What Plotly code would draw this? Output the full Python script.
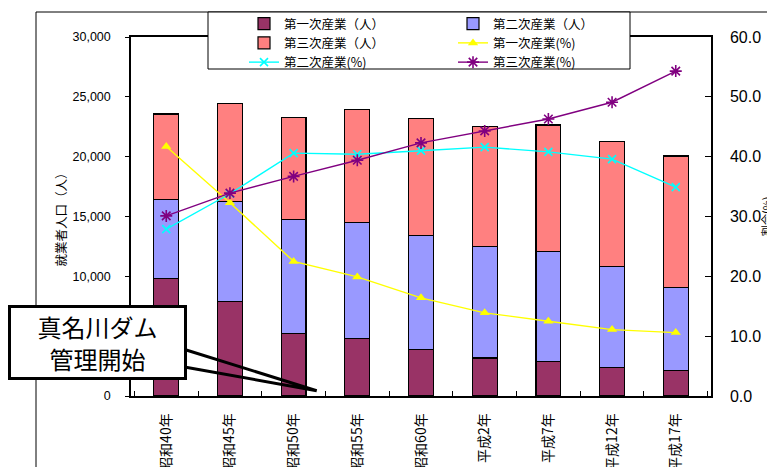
import plotly.graph_objects as go

# 就業者数（人）と産業別割合（%）
years = ["昭和40年", "昭和45年", "昭和50年", "昭和55年", "昭和60年",
         "平成2年", "平成7年", "平成12年", "平成17年"]
primary = [9800, 7920, 5220, 4800, 3890, 3170, 2860, 2360, 2140]
secondary = [6590, 8330, 9500, 9730, 9530, 9330, 9220, 8470, 6940]
tertiary = [7170, 8220, 8530, 9410, 9800, 10030, 10560, 10470, 10980]
pct_primary = [41.7, 32.3, 22.5, 19.9, 16.4, 13.9, 12.5, 11.1, 10.6]
pct_secondary = [27.9, 33.8, 40.6, 40.4, 41.0, 41.6, 40.8, 39.6, 34.9]
pct_tertiary = [30.1, 33.9, 36.7, 39.4, 42.3, 44.3, 46.3, 49.1, 54.3]

names_bar = ["第一次産業（人）", "第二次産業（人）", "第三次産業（人）"]
names_line = ["第一次産業(%)", "第二次産業(%)", "第三次産業(%)"]

W, H = 767, 467
L, R, T, B = 131, 711, 37, 396          # plot area in pixels
PW, PH = R - L, B - T


def px(x):
    return (x - L) / PW


def py(y):
    return (B - y) / PH


FONT = "Liberation Sans, Arial, Noto Sans CJK JP, sans-serif"
CJK = "Noto Sans CJK JP, sans-serif"

fig = go.Figure()

bar_colors = ["#993366", "#9999FF", "#FF8080"]
for name, vals, col in zip(names_bar, [primary, secondary, tertiary], bar_colors):
    fig.add_trace(go.Bar(
        x=years, y=vals, name=name, width=0.39,
        marker=dict(color=col, line=dict(color="#000000", width=1.2)),
    ))

line_styles = [
    ("#FFFF00", dict(symbol="triangle-up", size=9, color="#FFFF00")),
    ("#00FFFF", dict(symbol="x-thin-open", size=8, color="#00FFFF",
                     line=dict(color="#00FFFF", width=1.6))),
    ("#800080", dict(symbol="asterisk-open", size=10, color="#800080",
                     line=dict(color="#800080", width=1.6))),
]
for name, vals, (col, mk) in zip(names_line,
                                 [pct_primary, pct_secondary, pct_tertiary],
                                 line_styles):
    fig.add_trace(go.Scatter(
        x=years, y=vals, name=name, yaxis="y2", mode="lines+markers",
        line=dict(color=col, width=1.4), marker=mk,
    ))

shapes = [
    # outer chart frame
    dict(type="rect", xref="paper", yref="paper",
         x0=px(36), x1=px(800), y0=py(500), y1=py(12),
         line=dict(color="#000000", width=1), fillcolor="rgba(0,0,0,0)",
         layer="below"),
    # legend box
    dict(type="rect", xref="paper", yref="paper",
         x0=px(208), x1=px(630), y0=py(69), y1=py(12),
         line=dict(color="#000000", width=1), fillcolor="#FFFFFF",
         layer="above"),
    # callout pointer
    dict(type="path", xref="paper", yref="paper",
         path=(f"M{px(183)},{py(349)} L{px(316.7)},{py(390.7)} "
               f"L{px(183)},{py(366.7)}"),
         line=dict(color="#000000", width=3), fillcolor="rgba(0,0,0,0)",
         layer="above"),
]

annotations = [
    dict(text="真名川ダム<br>管理開始", xref="paper", yref="paper",
         x=px(97), y=py(342), xanchor="center", yanchor="middle",
         showarrow=False, font=dict(family=CJK, size=24, color="#000000"),
         bgcolor="#FFFFFF", bordercolor="#000000", borderwidth=3,
         borderpad=1, width=171, height=67),
    # right axis title
    dict(text="割合(%)", xref="paper", yref="paper",
         x=px(756), y=py(216), xanchor="left", yanchor="middle",
         textangle=-90, showarrow=False,
         font=dict(family=CJK, size=11, color="#000000")),
]

fig.update_layout(
    width=W, height=H,
    margin=dict(l=L, r=W - R, t=T, b=H - B, pad=0, autoexpand=False),
    paper_bgcolor="#FFFFFF", plot_bgcolor="#FFFFFF",
    barmode="stack", bargap=0.61,
    font=dict(family=FONT, size=12.5, color="#000000"),
    showlegend=True,
    legend=dict(
        orientation="h", xref="container", yref="container",
        x=244 / W, y=1 - 9 / H, xanchor="left", yanchor="top",
        bgcolor="rgba(0,0,0,0)", borderwidth=0,
        entrywidth=164, entrywidthmode="pixels",
        font=dict(family=CJK, size=12.5), traceorder="normal",
        tracegroupgap=0,
    ),
    xaxis=dict(
        type="category", automargin=False, showline=True,
        linecolor="#000000", linewidth=1.5,
        mirror=True, ticks="inside", tickson="boundaries", ticklen=5,
        tickcolor="#000000", tickangle=-90, ticklabelstandoff=10,
        tickfont=dict(family=CJK, size=14),
    ),
    yaxis=dict(
        range=[0, 30000], dtick=5000, tickformat=",", showgrid=False,
        automargin=False,
        zeroline=False, showline=True, linecolor="#000000", linewidth=1.5,
        ticks="outside", ticklen=4, tickcolor="#000000",
        ticklabelstandoff=12,
        tickfont=dict(family=FONT, size=12.5),
        title=dict(text="就業者人口（人）", font=dict(family=CJK, size=12.5),
                   standoff=3),
    ),
    yaxis2=dict(
        range=[0, 60], dtick=10, tickformat=".1f", overlaying="y",
        automargin=False,
        side="right", showgrid=False, zeroline=False, showline=True,
        linecolor="#000000", linewidth=1.5, ticks="inside", ticklen=6,
        tickcolor="#000000", ticklabelstandoff=14,
        tickfont=dict(family=FONT, size=16),
    ),
    shapes=shapes,
    annotations=annotations,
)

fig.write_html("out.html")
